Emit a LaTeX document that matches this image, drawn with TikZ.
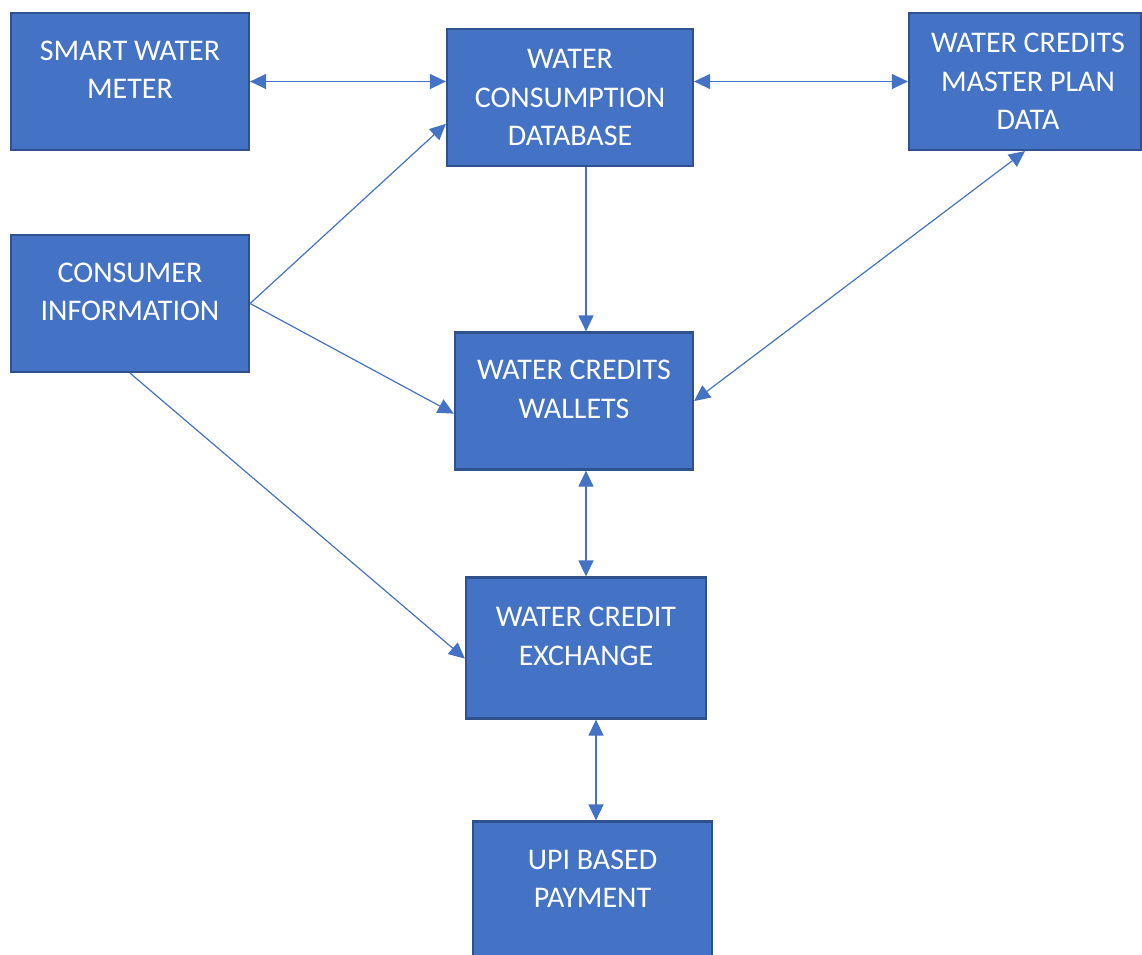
\documentclass[tikz,border=0pt]{standalone}
\usepackage{fontspec}
\setmainfont{Carlito}
\usepackage{tikz}
\usetikzlibrary{arrows.meta}
\usepackage{xcolor}
\definecolor{boxfill}{HTML}{4472C4}
\definecolor{boxline}{HTML}{2F528F}

\tikzset{
	block/.style={draw=boxline, line width=2.2pt, fill=boxfill, minimum width=238pt, minimum height=137pt, inner sep=0pt},
	caption/.style={text=white, align=center, inner sep=0pt, font=\fontsize{30}{38.5}\selectfont},
	link/.style={draw=boxfill, line width=1.2pt, -{Triangle[length=16pt, width=15pt]}},
	both/.style={link, {Triangle[length=16pt, width=15pt]}-{Triangle[length=16pt, width=15pt]}}
}

\begin{document}
\begin{tikzpicture}[x=1pt, y=-1pt]
		\useasboundingbox (0,0) rectangle (1142,954);
	
		\node [block] (meter) at (130,81.5) {};
		\node [caption] (meter text) at ([yshift=11.5pt]meter.center) {SMART WATER\\METER};
		
		\node [block, minimum width=246pt] (wcd) at (570,97.5) {};
		\node [caption] (wcd text) at (wcd.center) {WATER\\CONSUMPTION\\DATABASE};
		
		\node [block, minimum width=232pt] (plan) at (1025,81.5) {};
		\node [caption] (plan text) at ([xshift=3pt]plan.center) {WATER CREDITS\\MASTER PLAN\\DATA};
		
		\node [block] (consumer) at (130,303.5) {};
		\node [caption] (consumer text) at ([yshift=11.5pt]consumer.center) {CONSUMER\\INFORMATION};
		
		\node [block] (wallet) at (574,401) {};
		\node [caption] (wallet text) at ([yshift=11.5pt]wallet.center) {WATER CREDITS\\WALLETS};
		
		\node [block, minimum width=240pt, minimum height=141pt] (exchange) at (586,648) {};
		\node [caption] (exchange text) at ([yshift=11.5pt]exchange.center) {WATER CREDIT\\EXCHANGE};
		
		\node [block, minimum width=239pt] (upi) at (592.5,890) {};
		\node [caption] (upi text) at ([yshift=11.5pt]upi.center) {UPI BASED\\PAYMENT};
	
		\draw [both] (meter.east) -- (meter.east -| wcd.west);
		\draw [both] (plan.west -| wcd.east) -- (plan.west);
		
		\draw [link] (consumer.east) -- (wcd.192);
		\draw [link] (consumer.east) -- (wallet.186);
		\draw [link] (consumer.south) -- (exchange.185);
		
		\draw [link] (wcd.south -| exchange.north) -- (wallet.north -| exchange.north);
		\draw [both] (plan.south) -- (wallet.east);
		
		\draw [both] (wallet.south -| exchange.north) -- (exchange.north);
		\draw [both] ([xshift=10pt]exchange.south) -- ([xshift=10pt]exchange.south |- upi.north);
	
	\end{tikzpicture}
\end{document}
